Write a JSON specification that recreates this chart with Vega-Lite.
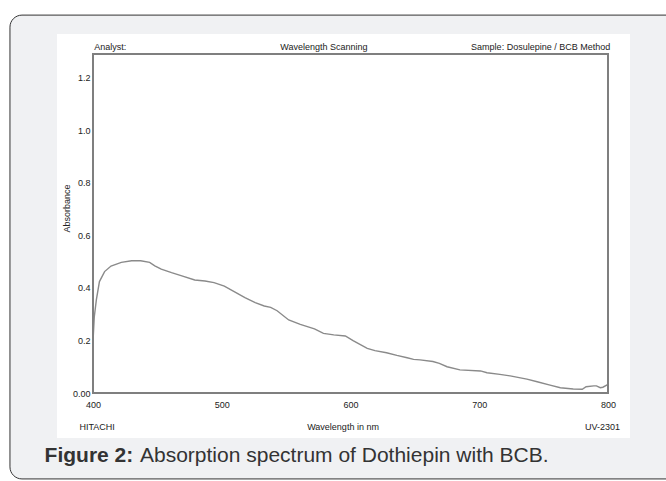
{
  "$schema": "https://vega.github.io/schema/vega-lite/v6.json",
  "width": 515,
  "height": 339,
  "autosize": {"type": "none"},
  "padding": {"left": 93, "top": 54, "right": 58, "bottom": 88},
  "background": "#ffffff",
  "config": {"view": {"stroke": null}, "font": "Liberation Sans, Arial, sans-serif"},
  "datasets": {
    "one": [{}],
    "spectrum": [
      {"wavelength": 400, "absorbance": 0.195},
      {"wavelength": 401, "absorbance": 0.29},
      {"wavelength": 402.6, "absorbance": 0.354},
      {"wavelength": 405, "absorbance": 0.424},
      {"wavelength": 409, "absorbance": 0.462},
      {"wavelength": 414, "absorbance": 0.483},
      {"wavelength": 422, "absorbance": 0.497},
      {"wavelength": 430, "absorbance": 0.503},
      {"wavelength": 437, "absorbance": 0.503},
      {"wavelength": 444, "absorbance": 0.497},
      {"wavelength": 448, "absorbance": 0.484},
      {"wavelength": 453, "absorbance": 0.471},
      {"wavelength": 461, "absorbance": 0.458},
      {"wavelength": 469, "absorbance": 0.446},
      {"wavelength": 479, "absorbance": 0.43},
      {"wavelength": 487, "absorbance": 0.426},
      {"wavelength": 494, "absorbance": 0.42},
      {"wavelength": 502, "absorbance": 0.407},
      {"wavelength": 510, "absorbance": 0.385},
      {"wavelength": 518, "absorbance": 0.363},
      {"wavelength": 526, "absorbance": 0.344},
      {"wavelength": 533, "absorbance": 0.331},
      {"wavelength": 538, "absorbance": 0.326},
      {"wavelength": 543, "absorbance": 0.313},
      {"wavelength": 552, "absorbance": 0.278},
      {"wavelength": 561, "absorbance": 0.261},
      {"wavelength": 572, "absorbance": 0.244},
      {"wavelength": 579, "absorbance": 0.227},
      {"wavelength": 587, "absorbance": 0.221},
      {"wavelength": 596, "absorbance": 0.217},
      {"wavelength": 602, "absorbance": 0.199},
      {"wavelength": 613, "absorbance": 0.17},
      {"wavelength": 619, "absorbance": 0.161},
      {"wavelength": 628, "absorbance": 0.153},
      {"wavelength": 636, "absorbance": 0.143},
      {"wavelength": 644, "absorbance": 0.134},
      {"wavelength": 649, "absorbance": 0.128},
      {"wavelength": 654, "absorbance": 0.126},
      {"wavelength": 664, "absorbance": 0.12},
      {"wavelength": 669, "absorbance": 0.113},
      {"wavelength": 675, "absorbance": 0.1},
      {"wavelength": 685, "absorbance": 0.088},
      {"wavelength": 701, "absorbance": 0.084},
      {"wavelength": 706, "absorbance": 0.077},
      {"wavelength": 716, "absorbance": 0.071},
      {"wavelength": 724, "absorbance": 0.065},
      {"wavelength": 737, "absorbance": 0.053},
      {"wavelength": 745, "absorbance": 0.043},
      {"wavelength": 755, "absorbance": 0.03},
      {"wavelength": 763, "absorbance": 0.02},
      {"wavelength": 773, "absorbance": 0.015},
      {"wavelength": 780, "absorbance": 0.014},
      {"wavelength": 783, "absorbance": 0.024},
      {"wavelength": 789, "absorbance": 0.027},
      {"wavelength": 791, "absorbance": 0.027},
      {"wavelength": 794, "absorbance": 0.02},
      {"wavelength": 796, "absorbance": 0.022},
      {"wavelength": 799, "absorbance": 0.03},
      {"wavelength": 800, "absorbance": 0.034}
    ]
  },
  "layer": [
    {
      "data": {"name": "one"},
      "mark": {"type": "rect", "fill": "#f0f1f3", "stroke": "#333333", "strokeWidth": 1, "cornerRadius": 12},
      "encoding": {
        "x": {"datum": 335.5, "type": "quantitative"},
        "x2": {"datum": 856},
        "y": {"datum": 1.438, "type": "quantitative"},
        "y2": {"datum": -0.327}
      }
    },
    {
      "data": {"name": "one"},
      "mark": {"type": "rect", "fill": "#ffffff"},
      "encoding": {
        "x": {"datum": 372, "type": "quantitative"},
        "x2": {"datum": 817.1},
        "y": {"datum": 1.366, "type": "quantitative"},
        "y2": {"datum": -0.171}
      }
    },
    {
      "data": {"name": "spectrum"},
      "mark": {"type": "line", "stroke": "#8a8a8a", "strokeWidth": 1.4},
      "encoding": {
        "x": {
          "field": "wavelength", "type": "quantitative",
          "scale": {"domain": [400, 800], "nice": false, "zero": false},
          "axis": {"values": [400, 500, 600, 700, 800], "title": null, "domain": false, "ticks": false, "grid": false, "labelFontSize": 9, "labelColor": "#222222", "labelPadding": 7, "labelFlush": false, "zindex": 1}
        },
        "y": {
          "field": "absorbance", "type": "quantitative",
          "scale": {"domain": [0, 1.29], "nice": false, "zero": false},
          "axis": {"values": [0, 0.2, 0.4, 0.6, 0.8, 1.0, 1.2], "labelExpr": "datum.value == 0 ? '0.00' : format(datum.value, '.1f')", "domain": false, "ticks": false, "grid": false, "labelFontSize": 9, "labelColor": "#222222", "labelPadding": 3, "title": "Absorbance", "titleFontSize": 9, "titleFontWeight": "normal", "titleColor": "#222222", "titleX": -22, "titleY": 154, "zindex": 1}
        }
      }
    },
    {
      "data": {"name": "one"},
      "mark": {"type": "rect", "filled": false, "stroke": "#7f7f7f", "strokeWidth": 2},
      "encoding": {
        "x": {"datum": 400, "type": "quantitative"},
        "x2": {"datum": 800},
        "y": {"datum": 0, "type": "quantitative"},
        "y2": {"datum": 1.29}
      }
    },
    {
      "data": {"name": "one"},
      "mark": {"type": "text", "text": "Analyst:", "align": "left", "baseline": "middle", "fontSize": 9, "fill": "#222222"},
      "encoding": {"x": {"datum": 401, "type": "quantitative"}, "y": {"datum": 1.317, "type": "quantitative"}}
    },
    {
      "data": {"name": "one"},
      "mark": {"type": "text", "text": "Wavelength Scanning", "align": "center", "baseline": "middle", "fontSize": 9, "fill": "#222222"},
      "encoding": {"x": {"datum": 579.4, "type": "quantitative"}, "y": {"datum": 1.317, "type": "quantitative"}}
    },
    {
      "data": {"name": "one"},
      "mark": {"type": "text", "text": "Sample: Dosulepine / BCB Method", "align": "right", "baseline": "middle", "fontSize": 9, "fill": "#222222"},
      "encoding": {"x": {"datum": 801.7, "type": "quantitative"}, "y": {"datum": 1.317, "type": "quantitative"}}
    },
    {
      "data": {"name": "one"},
      "mark": {"type": "text", "text": "HITACHI", "align": "left", "baseline": "middle", "fontSize": 9, "fill": "#222222"},
      "encoding": {"x": {"datum": 389.5, "type": "quantitative"}, "y": {"datum": -0.129, "type": "quantitative"}}
    },
    {
      "data": {"name": "one"},
      "mark": {"type": "text", "text": "Wavelength in nm", "align": "center", "baseline": "middle", "fontSize": 9, "fill": "#222222"},
      "encoding": {"x": {"datum": 594.2, "type": "quantitative"}, "y": {"datum": -0.129, "type": "quantitative"}}
    },
    {
      "data": {"name": "one"},
      "mark": {"type": "text", "text": "UV-2301", "align": "right", "baseline": "middle", "fontSize": 9, "fill": "#222222"},
      "encoding": {"x": {"datum": 809.3, "type": "quantitative"}, "y": {"datum": -0.129, "type": "quantitative"}}
    },
    {
      "data": {"name": "one"},
      "mark": {"type": "text", "text": "Figure 2:", "align": "left", "baseline": "alphabetic", "fontSize": 21, "fontWeight": "bold", "fill": "#333333"},
      "encoding": {"x": {"datum": 362.4, "type": "quantitative"}, "y": {"datum": -0.2626, "type": "quantitative"}}
    },
    {
      "data": {"name": "one"},
      "mark": {"type": "text", "text": "Absorption spectrum of Dothiepin with BCB.", "align": "left", "baseline": "alphabetic", "fontSize": 21, "fill": "#333333"},
      "encoding": {"x": {"datum": 436.5, "type": "quantitative"}, "y": {"datum": -0.2626, "type": "quantitative"}}
    }
  ]
}
